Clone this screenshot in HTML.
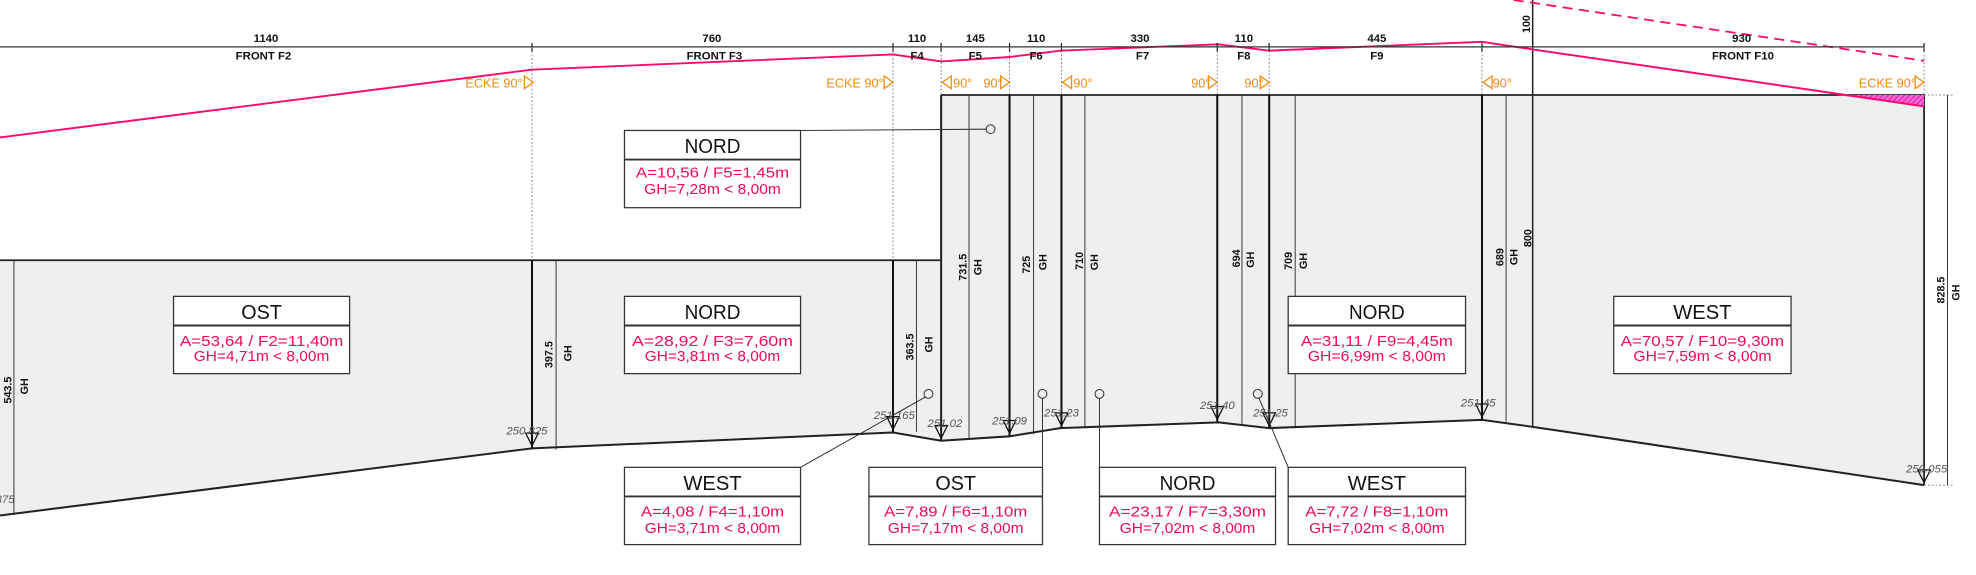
<!DOCTYPE html>
<html><head><meta charset="utf-8"><style>
html,body{margin:0;padding:0;background:#fff;width:1976px;height:575px;overflow:hidden}
svg{display:block}
text{font-family:"Liberation Sans",sans-serif}
.d{font-size:9px;font-weight:bold;fill:#111;text-anchor:middle}
.o{font-size:10px;fill:#f08a10;text-anchor:middle}
.e{font-size:9px;font-style:italic;fill:#555;text-anchor:middle}
.h{font-size:16px;fill:#111;text-anchor:middle}
.p{font-size:11.5px;fill:#ee0a5a;text-anchor:middle}
.v{font-size:8.5px;font-weight:bold;fill:#111;text-anchor:middle}
</style></head><body>
<svg width="1976" height="575" viewBox="0 0 1560 454" preserveAspectRatio="none" xmlns="http://www.w3.org/2000/svg">
<defs>
<pattern id="hat" width="3" height="3" patternUnits="userSpaceOnUse" patternTransform="rotate(45)"><rect width="3" height="3" fill="#ff66cc"/><line x1="0" y1="0" x2="0" y2="3" stroke="#cc00cc" stroke-width="1.2"/></pattern>
</defs>
<!-- building fills -->
<polygon points="0,205.5 743,205.5 743,75 1519,75 1519,383 1210,337 1170,331.5 1002,338 962,333.5 837,338 797,344.5 743,348 705,341.5 420,354 0,407" fill="#efefef"/>
<!-- outlines -->
<polyline points="0,205.5 743,205.5" fill="none" stroke="#222" stroke-width="1.4"/>
<polyline points="743,75 1519,75" fill="none" stroke="#222" stroke-width="1.4"/>
<polyline points="0,407 420,354 705,341.5 743,348 797,344.5 837,338 962,333.5 1002,338 1170,331.5 1210,337 1519,383" fill="none" stroke="#222" stroke-width="1.6"/>
<line x1="1519" y1="75" x2="1519" y2="383" stroke="#222" stroke-width="1.4"/>
<line x1="743" y1="75" x2="743" y2="348" stroke="#222" stroke-width="1.6"/>
<line x1="1210" y1="0" x2="1210" y2="337" stroke="#222" stroke-width="1.2"/>
<!-- hatched triangle -->
<polygon points="1450,75 1519,75 1519,84" fill="url(#hat)"/>
<!-- pink lines -->
<polyline points="0,108.5 420,55 705,43 743,48.5 797,45 837,40 962,35 1002,40 1170,33 1210,39 1519,84" fill="none" stroke="#ff0a6a" stroke-width="1.5"/>
<line x1="1195" y1="0" x2="1519" y2="48" stroke="#ff0a6a" stroke-width="1.4" stroke-dasharray="8,5"/>
<!-- top dimension line -->
<line x1="0" y1="37" x2="1519" y2="37" stroke="#333" stroke-width="1"/>
<g stroke="#222" stroke-width="1">
<line x1="420" y1="34" x2="420" y2="41"/><line x1="705" y1="34" x2="705" y2="41"/><line x1="743" y1="34" x2="743" y2="41"/><line x1="797" y1="34" x2="797" y2="41"/><line x1="838" y1="34" x2="838" y2="41"/><line x1="961" y1="34" x2="961" y2="41"/><line x1="1002" y1="34" x2="1002" y2="41"/><line x1="1170" y1="34" x2="1170" y2="41"/><line x1="1519" y1="34" x2="1519" y2="41"/>
</g>
<g stroke="#666" stroke-width="0.6" stroke-dasharray="1.5,1.5">
<line x1="420" y1="37" x2="420" y2="205"/><line x1="705" y1="37" x2="705" y2="205"/><line x1="743" y1="37" x2="743" y2="75"/><line x1="797" y1="37" x2="797" y2="75"/><line x1="838" y1="37" x2="838" y2="75"/><line x1="961" y1="37" x2="961" y2="75"/><line x1="1002" y1="37" x2="1002" y2="75"/><line x1="1170" y1="37" x2="1170" y2="75"/><line x1="1519" y1="37" x2="1519" y2="75"/>
<line x1="1519" y1="75" x2="1542" y2="75"/><line x1="1519" y1="383" x2="1542" y2="383"/>
</g>
<g class="d">
<text x="210" y="33">1140</text><text x="562" y="33">760</text><text x="724" y="33">110</text><text x="770" y="33">145</text><text x="818" y="33">110</text><text x="900" y="33">330</text><text x="982" y="33">110</text><text x="1087" y="33">445</text><text x="1375" y="33">930</text>
<text x="208" y="47">FRONT F2</text><text x="564" y="47">FRONT F3</text><text x="724" y="47">F4</text><text x="770" y="47">F5</text><text x="818" y="47">F6</text><text x="902" y="47">F7</text><text x="982" y="47">F8</text><text x="1087" y="47">F9</text><text x="1376" y="47">FRONT F10</text>
</g>
<!-- ECKE markers -->
<g class="o">
<text x="390" y="69">ECKE 90°</text><text x="675" y="69">ECKE 90°</text><text x="1490" y="69">ECKE 90°</text>
<text x="760" y="69">90°</text><text x="784" y="69">90°</text><text x="855" y="69">90°</text><text x="948" y="69">90°</text><text x="990" y="69">90°</text><text x="1186" y="69">90°</text>
</g>
<g fill="none" stroke="#f08a10" stroke-width="1">
<polygon points="414,60 421,65 414,70"/><polygon points="698,60 705,65 698,70"/><polygon points="1512,60 1519,65 1512,70"/>
<polygon points="751,60 744,65 751,70"/><polygon points="790,60 797,65 790,70"/><polygon points="846,60 839,65 846,70"/><polygon points="954,60 961,65 954,70"/><polygon points="995,60 1002,65 995,70"/><polygon points="1178,60 1171,65 1178,70"/>
</g>
<!-- thick verticals -->
<g stroke="#111" stroke-width="1.6">
<line x1="420" y1="205.5" x2="420" y2="354"/><line x1="705" y1="205.5" x2="705" y2="341"/><line x1="797" y1="75" x2="797" y2="344"/><line x1="838" y1="75" x2="838" y2="338"/><line x1="961" y1="75" x2="961" y2="333"/><line x1="1002" y1="75" x2="1002" y2="338"/><line x1="1170" y1="75" x2="1170" y2="331"/>
</g>
<!-- thin dims -->
<g stroke="#222" stroke-width="0.7">
<line x1="11" y1="205.5" x2="11" y2="406"/><line x1="439" y1="205.5" x2="439" y2="355"/><line x1="723.5" y1="205.5" x2="723.5" y2="341"/><line x1="765" y1="75" x2="765" y2="347"/><line x1="816" y1="75" x2="816" y2="343"/><line x1="856.5" y1="75" x2="856.5" y2="337"/><line x1="980.5" y1="75" x2="980.5" y2="335"/><line x1="1022.5" y1="75" x2="1022.5" y2="337"/><line x1="1189" y1="75" x2="1189" y2="333"/><line x1="1537.5" y1="75" x2="1537.5" y2="383"/>
</g>
<!-- triangles -->
<g fill="none" stroke="#111" stroke-width="1">
<polygon points="415,342 425,342 420,352"/><polygon points="700,329 710,329 705,339"/><polygon points="738,336 748,336 743,346"/><polygon points="792,332 802,332 797,342"/><polygon points="833,326 843,326 838,336"/><polygon points="956,321 966,321 961,331"/><polygon points="997,326 1007,326 1002,336"/><polygon points="1165,319 1175,319 1170,329"/><polygon points="1514,371 1524,371 1519,381"/>
</g>
<!-- elevations -->
<g class="e">
<text x="416" y="343">250.825</text><text x="706" y="331">251.165</text><text x="746" y="337">251.02</text><text x="797" y="335">251.09</text><text x="838" y="329">251.23</text><text x="961" y="323">251.40</text><text x="1003" y="329">251.25</text><text x="1167" y="321">251.45</text><text x="1521" y="373">250.055</text><text x="4" y="397">375</text>
</g>
<!-- vertical labels -->
<g class="v">
<text transform="translate(9,308) rotate(-90)">543.5</text><text transform="translate(22,305) rotate(-90)">GH</text>
<text transform="translate(436,280) rotate(-90)">397.5</text><text transform="translate(451,279) rotate(-90)">GH</text>
<text transform="translate(721,274) rotate(-90)">363.5</text><text transform="translate(736,272) rotate(-90)">GH</text>
<text transform="translate(763,211) rotate(-90)">731.5</text><text transform="translate(775,211) rotate(-90)">GH</text>
<text transform="translate(813,209) rotate(-90)">725</text><text transform="translate(826,207) rotate(-90)">GH</text>
<text transform="translate(855,206) rotate(-90)">710</text><text transform="translate(867,207) rotate(-90)">GH</text>
<text transform="translate(979,204) rotate(-90)">694</text><text transform="translate(990,205) rotate(-90)">GH</text>
<text transform="translate(1020,206) rotate(-90)">709</text><text transform="translate(1032,206) rotate(-90)">GH</text>
<text transform="translate(1187,203) rotate(-90)">689</text><text transform="translate(1198,203) rotate(-90)">GH</text>
<text transform="translate(1209,188) rotate(-90)">800</text>
<text transform="translate(1535,229) rotate(-90)">828.5</text><text transform="translate(1547,231) rotate(-90)">GH</text>
<text transform="translate(1208,19) rotate(-90)">100</text>
</g>
<!-- leaders -->
<g fill="none" stroke="#333" stroke-width="0.8">
<circle cx="782" cy="102" r="3.5"/><line x1="632" y1="103" x2="778.5" y2="102"/>
<circle cx="733" cy="311" r="3.5"/><line x1="730.5" y1="313.5" x2="632" y2="369"/>
<circle cx="823" cy="311" r="3.5"/><line x1="823" y1="314.5" x2="823" y2="369"/>
<circle cx="868" cy="311" r="3.5"/><line x1="868" y1="314.5" x2="868" y2="369"/>
<circle cx="993" cy="311" r="3.5"/><line x1="994" y1="314.5" x2="1017" y2="369"/>
</g>
<!-- boxes -->
<g>
<g transform="translate(493,103)"><rect width="139" height="61" fill="#fff" stroke="#333"/><line x1="0" y1="23" x2="139" y2="23" stroke="#333" stroke-width="1.5"/><text class="h" x="69.5" y="18" textLength="44" lengthAdjust="spacingAndGlyphs">NORD</text><text class="p" x="69.5" y="37" textLength="121" lengthAdjust="spacingAndGlyphs">A=10,56 / F5=1,45m</text><text class="p" x="69.5" y="50" textLength="108" lengthAdjust="spacingAndGlyphs">GH=7,28m &lt; 8,00m</text></g>
<g transform="translate(137,234)"><rect width="139" height="61" fill="#fff" stroke="#333"/><line x1="0" y1="23" x2="139" y2="23" stroke="#333" stroke-width="1.5"/><text class="h" x="69.5" y="18" textLength="32" lengthAdjust="spacingAndGlyphs">OST</text><text class="p" x="69.5" y="39" textLength="129" lengthAdjust="spacingAndGlyphs">A=53,64 / F2=11,40m</text><text class="p" x="69.5" y="51" textLength="107" lengthAdjust="spacingAndGlyphs">GH=4,71m &lt; 8,00m</text></g>
<g transform="translate(493,234)"><rect width="139" height="61" fill="#fff" stroke="#333"/><line x1="0" y1="23" x2="139" y2="23" stroke="#333" stroke-width="1.5"/><text class="h" x="69.5" y="18" textLength="44" lengthAdjust="spacingAndGlyphs">NORD</text><text class="p" x="69.5" y="39" textLength="127" lengthAdjust="spacingAndGlyphs">A=28,92 / F3=7,60m</text><text class="p" x="69.5" y="51" textLength="107" lengthAdjust="spacingAndGlyphs">GH=3,81m &lt; 8,00m</text></g>
<g transform="translate(1017,234)"><rect width="140" height="61" fill="#fff" stroke="#333"/><line x1="0" y1="23" x2="140" y2="23" stroke="#333" stroke-width="1.5"/><text class="h" x="70" y="18" textLength="44" lengthAdjust="spacingAndGlyphs">NORD</text><text class="p" x="70" y="39" textLength="120" lengthAdjust="spacingAndGlyphs">A=31,11 / F9=4,45m</text><text class="p" x="70" y="51" textLength="109" lengthAdjust="spacingAndGlyphs">GH=6,99m &lt; 8,00m</text></g>
<g transform="translate(1274,234)"><rect width="140" height="61" fill="#fff" stroke="#333"/><line x1="0" y1="23" x2="140" y2="23" stroke="#333" stroke-width="1.5"/><text class="h" x="70" y="18" textLength="46" lengthAdjust="spacingAndGlyphs">WEST</text><text class="p" x="70" y="39" textLength="129" lengthAdjust="spacingAndGlyphs">A=70,57 / F10=9,30m</text><text class="p" x="70" y="51" textLength="109" lengthAdjust="spacingAndGlyphs">GH=7,59m &lt; 8,00m</text></g>
<g transform="translate(493,369)"><rect width="139" height="61" fill="#fff" stroke="#333"/><line x1="0" y1="23" x2="139" y2="23" stroke="#333" stroke-width="1.5"/><text class="h" x="69.5" y="18" textLength="46" lengthAdjust="spacingAndGlyphs">WEST</text><text class="p" x="69.5" y="39" textLength="113" lengthAdjust="spacingAndGlyphs">A=4,08 / F4=1,10m</text><text class="p" x="69.5" y="52" textLength="107" lengthAdjust="spacingAndGlyphs">GH=3,71m &lt; 8,00m</text></g>
<g transform="translate(686,369)"><rect width="137" height="61" fill="#fff" stroke="#333"/><line x1="0" y1="23" x2="137" y2="23" stroke="#333" stroke-width="1.5"/><text class="h" x="68.5" y="18" textLength="32" lengthAdjust="spacingAndGlyphs">OST</text><text class="p" x="68.5" y="39" textLength="113" lengthAdjust="spacingAndGlyphs">A=7,89 / F6=1,10m</text><text class="p" x="68.5" y="52" textLength="107" lengthAdjust="spacingAndGlyphs">GH=7,17m &lt; 8,00m</text></g>
<g transform="translate(868,369)"><rect width="139" height="61" fill="#fff" stroke="#333"/><line x1="0" y1="23" x2="139" y2="23" stroke="#333" stroke-width="1.5"/><text class="h" x="69.5" y="18" textLength="44" lengthAdjust="spacingAndGlyphs">NORD</text><text class="p" x="69.5" y="39" textLength="124" lengthAdjust="spacingAndGlyphs">A=23,17 / F7=3,30m</text><text class="p" x="69.5" y="52" textLength="107" lengthAdjust="spacingAndGlyphs">GH=7,02m &lt; 8,00m</text></g>
<g transform="translate(1017,369)"><rect width="140" height="61" fill="#fff" stroke="#333"/><line x1="0" y1="23" x2="140" y2="23" stroke="#333" stroke-width="1.5"/><text class="h" x="70" y="18" textLength="46" lengthAdjust="spacingAndGlyphs">WEST</text><text class="p" x="70" y="39" textLength="113" lengthAdjust="spacingAndGlyphs">A=7,72 / F8=1,10m</text><text class="p" x="70" y="52" textLength="107" lengthAdjust="spacingAndGlyphs">GH=7,02m &lt; 8,00m</text></g>
</g>
</svg>
</body></html>
